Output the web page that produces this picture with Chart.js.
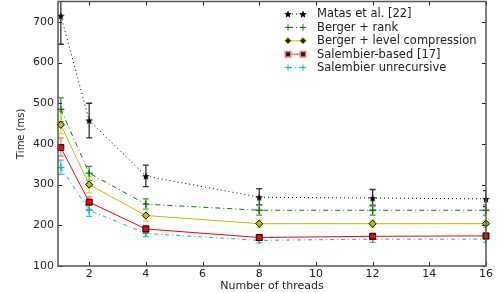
<!DOCTYPE html>
<html>
<head>
<meta charset="utf-8">
<script src="https://cdn.jsdelivr.net/npm/chart.js@4/dist/chart.umd.min.js"></script>
<style>
  html, body { margin: 0; padding: 0; background: #fff; }
  #wrap { width: 499px; height: 293px; }
</style>
</head>
<body>
<div id="wrap"><canvas id="grafico"></canvas></div>
<script>
const hilos = [1, 2, 4, 8, 12, 16];
const etiquetasSeries = ['Matas et al. [22]', 'Berger + rank', 'Berger + level compression', 'Salembier-based [17]', 'Salembier unrecursive'];

const matas = [715, 458, 321, 269, 267, 265];
const matasBajo = [645, 415, 295, 250, 248, 246];
const matasAlto = [790, 500, 348, 290, 288, 285];

const bergerRank = [485, 328, 252, 237, 237, 237];
const bergerRankBajo = [455, 310, 240, 225, 225, 225];
const bergerRankAlto = [513, 345, 265, 250, 250, 250];

const bergerNivel = [447, 300, 224, 204, 204, 204];
const bergerNivelBajo = [425, 280, 210, 195, 195, 195];
const bergerNivelAlto = [480, 320, 238, 213, 213, 213];

const salembier = [391, 257, 191, 170, 173, 174];
const salembierBajo = [370, 240, 183, 163, 165, 166];
const salembierAlto = [415, 270, 200, 177, 180, 181];

const salembierNR = [342, 237, 180, 163, 166, 166];
const salembierNRBajo = [325, 222, 172, 157, 158, 158];
const salembierNRAlto = [360, 250, 190, 170, 173, 173];

const ticksX = [2, 4, 6, 8, 10, 12, 14, 16];
const ticksY = [100, 200, 300, 400, 500, 600, 700];

// estrella rellena tipo matplotlib
function crearEstrella(tam, color) {
  const c = document.createElement('canvas');
  c.width = tam; c.height = tam;
  const g = c.getContext('2d');
  const r = tam / 2, ri = r * 0.45;
  g.beginPath();
  for (let i = 0; i < 10; i++) {
    const rad = i % 2 === 0 ? r : ri;
    const a = -Math.PI / 2 + i * Math.PI / 5;
    const px = r + rad * Math.cos(a), py = r + rad * Math.sin(a) + 0.5;
    if (i === 0) g.moveTo(px, py); else g.lineTo(px, py);
  }
  g.closePath();
  g.fillStyle = color;
  g.fill();
  return c;
}
const estrella = crearEstrella(8, '#000');

const puntos = (ys) => ys.map((y, i) => ({ x: hilos[i], y }));

const series = [
  { datos: matas, bajo: matasBajo, alto: matasAlto, color: '#000000', errColor: '#333333', dash: [1, 3], estilo: estrella, radio: 4, relleno: '#000' },
  { datos: bergerRank, bajo: bergerRankBajo, alto: bergerRankAlto, color: '#008000', errColor: '#33a033', dash: [5, 3, 1, 3], estilo: 'cross', radio: 3.5, relleno: '#008000' },
  { datos: bergerNivel, bajo: bergerNivelBajo, alto: bergerNivelAlto, color: '#bfbf00', errColor: '#d8d860', dash: [], estilo: 'rectRot', radio: 3.6, relleno: '#bfbf00' },
  { datos: salembier, bajo: salembierBajo, alto: salembierAlto, color: '#ff0000', errColor: '#ff7777', dash: [], estilo: 'rect', radio: 4.2, relleno: '#ff0000' },
  { datos: salembierNR, bajo: salembierNRBajo, alto: salembierNRAlto, color: '#00bfbf', errColor: '#33cccc', dash: [4, 3, 1, 3], estilo: 'cross', radio: 3.5, relleno: '#00bfbf' }
];

const barrasError = {
  id: 'barrasError',
  beforeDatasetsDraw(chart) {
    const { ctx, scales: { x, y }, chartArea } = chart;
    ctx.save();
    ctx.beginPath();
    ctx.rect(chartArea.left, chartArea.top, chartArea.right - chartArea.left, chartArea.bottom - chartArea.top);
    ctx.clip();
    series.forEach((s) => {
      ctx.strokeStyle = s.errColor;
      ctx.lineWidth = 1.3;
      hilos.forEach((h, i) => {
        const px = x.getPixelForValue(h);
        const y1 = y.getPixelForValue(s.bajo[i]);
        const y2 = y.getPixelForValue(s.alto[i]);
        ctx.beginPath();
        ctx.moveTo(px, y1); ctx.lineTo(px, y2);
        ctx.moveTo(px - 3, y1); ctx.lineTo(px + 3, y1);
        ctx.moveTo(px - 3, y2); ctx.lineTo(px + 3, y2);
        ctx.stroke();
      });
    });
    ctx.restore();
  }
};

const marco = {
  id: 'marco',
  afterDatasetsDraw(chart) {
    const { ctx, scales: { x, y }, chartArea: a } = chart;
    ctx.save();
    ctx.strokeStyle = '#222';
    ctx.lineWidth = 1;
    ticksX.forEach((t) => {
      const px = Math.round(x.getPixelForValue(t)) + 0.5;
      ctx.beginPath();
      ctx.moveTo(px, a.bottom); ctx.lineTo(px, a.bottom - 4);
      ctx.moveTo(px, a.top); ctx.lineTo(px, a.top + 4);
      ctx.stroke();
    });
    ticksY.forEach((t) => {
      const py = Math.round(y.getPixelForValue(t)) + 0.5;
      ctx.beginPath();
      ctx.moveTo(a.left, py); ctx.lineTo(a.left + 4, py);
      ctx.moveTo(a.right, py); ctx.lineTo(a.right - 4, py);
      ctx.stroke();
    });
    ctx.strokeStyle = '#555';
    ctx.lineWidth = 1.5;
    ctx.strokeRect(a.left, a.top, a.right - a.left, a.bottom - a.top);

    // leyenda
    ctx.font = '11.5px "DejaVu Sans"';
    ctx.textBaseline = 'middle';
    series.forEach((s, i) => {
      const yy = 14 + i * 13.4;
      ctx.strokeStyle = s.color === '#ff0000' ? '#ff7777' : s.color;
      ctx.lineWidth = s.color === '#ff0000' ? 1.5 : 1;
      ctx.setLineDash(s.dash);
      ctx.beginPath();
      ctx.moveTo(288, yy); ctx.lineTo(303, yy);
      ctx.stroke();
      ctx.setLineDash([]);
      [288, 303].forEach((px) => {
        Chart.helpers.drawPoint(ctx, {
          pointStyle: s.estilo, radius: s.radio - 0.3, rotation: 0,
          borderWidth: 1, borderColor: s.estilo === 'cross' ? s.color : '#000', backgroundColor: s.relleno
        }, px, yy);
      });
      ctx.fillStyle = '#222';
      ctx.fillText(etiquetasSeries[i], 317, yy + 0.5);
    });
    ctx.restore();
  }
};

new Chart(document.getElementById('grafico'), {
  type: 'line',
  data: {
    datasets: series.map((s, i) => ({
      label: etiquetasSeries[i],
      data: puntos(s.datos),
      borderColor: s.color,
      borderWidth: 1,
      borderDash: s.dash,
      pointStyle: s.estilo,
      pointRadius: s.radio,
      pointBackgroundColor: s.relleno,
      pointBorderColor: s.estilo === 'cross' ? s.color : '#000',
      pointBorderWidth: s.estilo === 'cross' ? 1.3 : 1,
      tension: 0,
      fill: false,
      clip: 6
    }))
  },
  options: {
    responsive: true,
    maintainAspectRatio: false,
    animation: false,
    events: [],
    layout: { autoPadding: false, padding: { top: 1.5, right: 13, left: 0, bottom: 0 } },
    plugins: { legend: { display: false }, tooltip: { enabled: false } },
    scales: {
      x: {
        type: 'linear',
        min: 0.9, max: 16,
        afterBuildTicks: (eje) => { eje.ticks = ticksX.map((v) => ({ value: v })); },
        afterFit: (eje) => { eje.height = 27; eje.paddingLeft = 0; eje.paddingRight = 0; },
        grid: { display: false, drawTicks: false },
        border: { display: false },
        ticks: { color: '#222', font: { family: '"DejaVu Sans"', size: 11 }, padding: 2, maxRotation: 0 },
        title: { display: true, text: 'Number of threads', color: '#222', font: { family: '"DejaVu Sans"', size: 11 }, padding: { top: 0, bottom: 0 } }
      },
      y: {
        min: 100, max: 750,
        afterBuildTicks: (eje) => { eje.ticks = ticksY.map((v) => ({ value: v })); },
        afterFit: (eje) => { eje.width = 58; eje.paddingTop = 0; eje.paddingBottom = 0; },
        grid: { display: false, drawTicks: false },
        border: { display: false },
        ticks: { color: '#222', font: { family: '"DejaVu Sans"', size: 11 }, padding: 4 },
        title: { display: true, text: 'Time (ms)', color: '#222', font: { family: '"DejaVu Sans"', size: 10 }, padding: { top: 15, bottom: 0 } }
      }
    }
  },
  plugins: [barrasError, marco]
});
</script>
</body>
</html>
